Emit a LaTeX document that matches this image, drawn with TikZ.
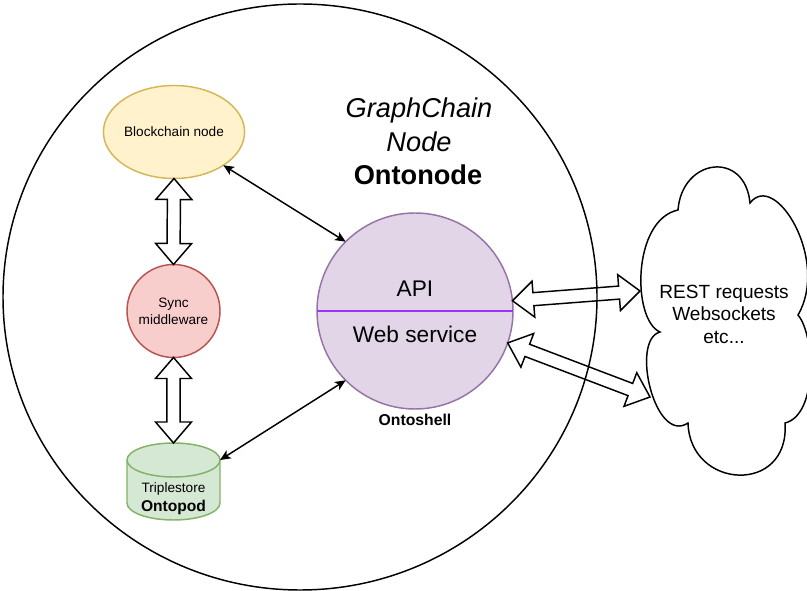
\documentclass[tikz,border=0pt]{standalone}
\usepackage{fontspec}
\setmainfont{Liberation Sans}
\usetikzlibrary{calc,arrows.meta,shapes.geometric}

% one drawing unit = one pixel of the original layout
\def\upx{0.75pt}

\definecolor{chainfill}{HTML}{FFF2CC}
\definecolor{chainline}{HTML}{D6B656}
\definecolor{syncfill}{HTML}{F8CECC}
\definecolor{syncline}{HTML}{B85450}
\definecolor{storefill}{HTML}{D5E8D4}
\definecolor{storeline}{HTML}{82B366}
\definecolor{shellfill}{HTML}{E1D5E7}
\definecolor{shellline}{HTML}{9673A6}
\definecolor{divider}{HTML}{9933FF}

\tikzset{
  shapebox/.style={draw, line width=1.1pt, inner sep=0pt, outer sep=0pt},
  link/.style={line width=1.1pt,
    {Stealth[length=8pt,width=7pt,inset=2pt]}-{Stealth[length=8pt,width=7pt,inset=2pt]}},
  flex/.style={draw, line width=1.1pt, line join=miter},
  small/.style={font=\fontsize{10.2pt}{12.6pt}\selectfont, align=center},
  title/.style={font=\fontsize{20.4pt}{24pt}\selectfont},
}

% hollow double-headed block arrow between two points
\def\fxh{15.75pt}% head length
\def\fxw{13.5pt}%  half head width
\def\fxs{4.9pt}%   half shaft width
\newcommand\flexarrow[2]{%
  \coordinate (fxa) at ($(#1)!\fxh!(#2)$);
  \coordinate (fxb) at ($(#2)!\fxh!(#1)$);
  \draw[flex] (#1) -- ($(fxa)!\fxw!-90:(#2)$) -- ($(fxa)!\fxs!-90:(#2)$)
    -- ($(fxb)!\fxs!90:(#1)$) -- ($(fxb)!\fxw!90:(#1)$) -- (#2)
    -- ($(fxb)!\fxw!-90:(#1)$) -- ($(fxb)!\fxs!-90:(#1)$)
    -- ($(fxa)!\fxs!90:(#2)$) -- ($(fxa)!\fxw!90:(#2)$) -- cycle;
}

\begin{document}
\begin{tikzpicture}[x=0.75pt,y=-0.75pt]
\useasboundingbox (0,0) rectangle (807,591);
\fill[white] (0,0) rectangle (807,591);

% outer container
\node[shapebox, ellipse, minimum width=594*\upx, minimum height=586*\upx]
  (ontonode) at (300,297) {};

\node[title, font=\fontsize{20.4pt}{24pt}\selectfont\itshape] (gc1) at (419,110) {GraphChain};
\node[title, font=\fontsize{20.4pt}{24pt}\selectfont\itshape] (gc2) at (419,142) {Node};
\node[title, font=\fontsize{20.4pt}{24pt}\selectfont\bfseries] (gc3) at (418,175) {Ontonode};

% blockchain node
\node[shapebox, ellipse, draw=chainline, fill=chainfill,
  minimum width=138*\upx, minimum height=93*\upx, small] (bc) at (174,132) {Blockchain node};

% sync middleware
\node[shapebox, circle, draw=syncline, fill=syncfill,
  minimum size=93*\upx, small] (sync) at (173.5,311) {Sync\\middleware};

% triplestore cylinder
\filldraw[storefill, draw=storeline, line width=1.1pt]
  (127,460) -- (127,503)
  arc[start angle=180, end angle=360, x radius=34.875pt, y radius=12.75pt]
  -- (220,460)
  arc[start angle=0, end angle=180, x radius=34.875pt, y radius=12.75pt] -- cycle;
\draw[storeline, line width=1.1pt] (127,460)
  arc[start angle=180, end angle=360, x radius=34.875pt, y radius=12.75pt];
\node[small] (tstore) at (173.5,489) {Triplestore};
\node[font=\fontsize{11.7pt}{14pt}\selectfont\bfseries] (tpod) at (173.5,507) {Ontopod};
\coordinate (tstoretop) at (173.5,443);
\coordinate (tstorecap) at (220,460);

% ontoshell
\node[shapebox, circle, draw=shellline, fill=shellfill, minimum size=196*\upx] (api) at (415,311) {};
\draw[divider, line width=1.3pt] (api.west) -- (api.east);
\node[font=\fontsize{17pt}{20pt}\selectfont] (apitxt) at (415,289) {API};
\node[font=\fontsize{17pt}{20pt}\selectfont] (wstxt) at (415,334) {Web service};
\node[font=\fontsize{11.8pt}{14pt}\selectfont\bfseries] (shell) at (415,420) {Ontoshell};

% external clients
\draw[line width=1.1pt, fill=white]
  (678,210) .. controls (682,158) and (745,150) .. (750,203)
  .. controls (775,170) and (830,260) .. (798,315)
  .. controls (815,335) and (818,415) .. (785,423)
  .. controls (790,495) and (690,490) .. (688,423)
  .. controls (655,445) and (630,340) .. (660,332)
  .. controls (632,320) and (632,220) .. (678,210) -- cycle;
\node[font=\fontsize{14.3pt}{16.9pt}\selectfont, align=center] (clients) at (724,314)
  {REST requests\\Websockets\\etc...};
\coordinate (cloudin1) at (640,291);
\coordinate (cloudin2) at (650,397);

% connectors
\draw[link] (bc.-34.5) -- (api.135);
\draw[link] (tstorecap) -- (api.225);
\flexarrow{bc.south}{sync.north}
\flexarrow{sync.south}{tstoretop}
\flexarrow{api.6}{cloudin1}
\flexarrow{api.-19}{cloudin2}
\end{tikzpicture}
\end{document}
